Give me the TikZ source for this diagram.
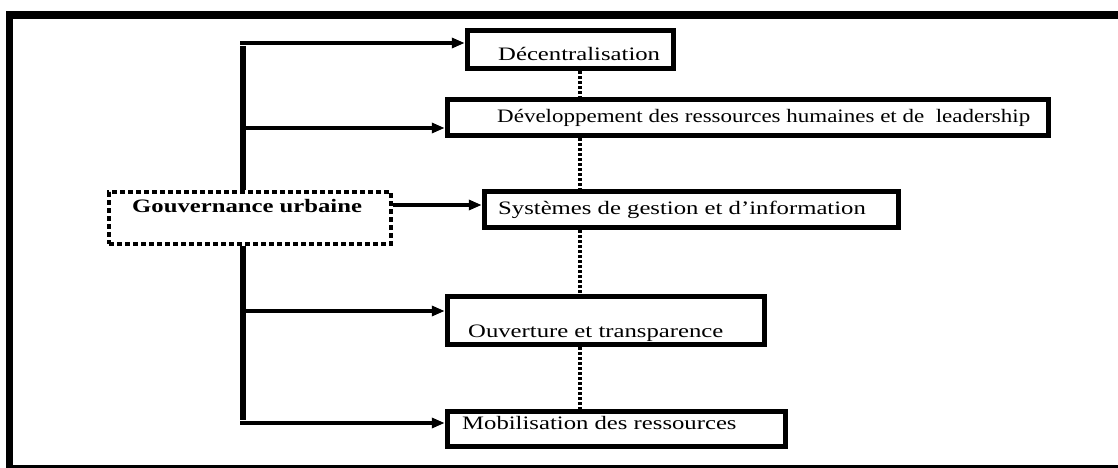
\documentclass[tikz,border=0pt]{standalone}
\usepackage{fontspec}
\setmainfont{Liberation Serif}[FakeStretch=1.3]
\newfontfamily\narrowserif{Liberation Serif}[FakeStretch=1.21]
\usetikzlibrary{arrows.meta}
\begin{document}
\begin{tikzpicture}[x=1pt,y=-1pt,
  box/.style={draw, line width=5.5pt, inner sep=0pt},
  govbox/.style={draw, line width=4pt, dash pattern=on 5pt off 3pt, inner sep=0pt, fill=white},
  txt/.style={inner sep=0pt, anchor=base west, font=\fontsize{19}{22}\selectfont},
  trunk/.style={line width=6pt},
  branch/.style={line width=3.2pt, -{Triangle[length=13pt,width=10pt]}},
  dotline/.style={line width=4pt, dash pattern=on 3pt off 2pt}
]
\useasboundingbox (0,0) rectangle (1118,468);
\clip (0,0) rectangle (1118,468);
% outer frame
\draw[line width=7.5pt] (1140,15) -- (9.5,15) -- (9.5,468.5) -- (1140,468.5);

% boxes
\node[box, minimum width=206pt, minimum height=38pt] (b1) at (570.5,49.5) {};
\node[box, minimum width=601pt, minimum height=36pt] (b2) at (748,117.5) {};
\node[box, minimum width=414pt, minimum height=36pt] (b3) at (691.5,209.5) {};
\node[box, minimum width=317pt, minimum height=48pt] (b4) at (606,320.5) {};
\node[box, minimum width=338pt, minimum height=35pt] (b5) at (616.5,429) {};
\node[govbox, minimum width=282pt, minimum height=52pt] (gov) at (250,218) {};

% texts
\node[txt] (t1) at (498,61) {Décentralisation};
\node[txt, font=\fontsize{19}{22}\narrowserif] (t2) at (497,123) {Développement des ressources humaines et de\ \ leadership};
\node[txt] (t3) at (498,214) {Systèmes de gestion et d’information};
\node[txt] (t4) at (468,337) {Ouverture et transparence};
\node[txt] (t5) at (462,429) {Mobilisation des ressources};
\node[txt, font=\fontsize{19}{22}\selectfont\bfseries] (tg) at (132,212) {Gouvernance urbaine};

% trunk coordinates
\coordinate (k1) at (243,43);
\coordinate (k2) at (243,128);
\coordinate (k3) at (393,205);
\coordinate (k4) at (243,311);
\coordinate (k5) at (243,423);

\draw[trunk] (gov.north -| k1) -- ([yshift=-3pt]k1);
\draw[trunk] (gov.south -| k5) -- ([yshift=3pt]k5);

\draw[branch] ([xshift=-3pt]k1) -- (k1 -| b1.west);
\draw[branch] (k2) -- (k2 -| b2.west);
\draw[branch] (k3 -| gov.east) -- (k3 -| b3.west);
\draw[branch] (k4) -- (k4 -| b4.west);
\draw[branch] ([xshift=-3pt]k5) -- (k5 -| b5.west);

% dotted links
\coordinate (dx) at (580,0);
\draw[dotline] (b1.south -| dx) -- (b2.north -| dx);
\draw[dotline] (b2.south -| dx) -- (b3.north -| dx);
\draw[dotline] (b3.south -| dx) -- (b4.north -| dx);
\draw[dotline] (b4.south -| dx) -- (b5.north -| dx);
\end{tikzpicture}
\end{document}
